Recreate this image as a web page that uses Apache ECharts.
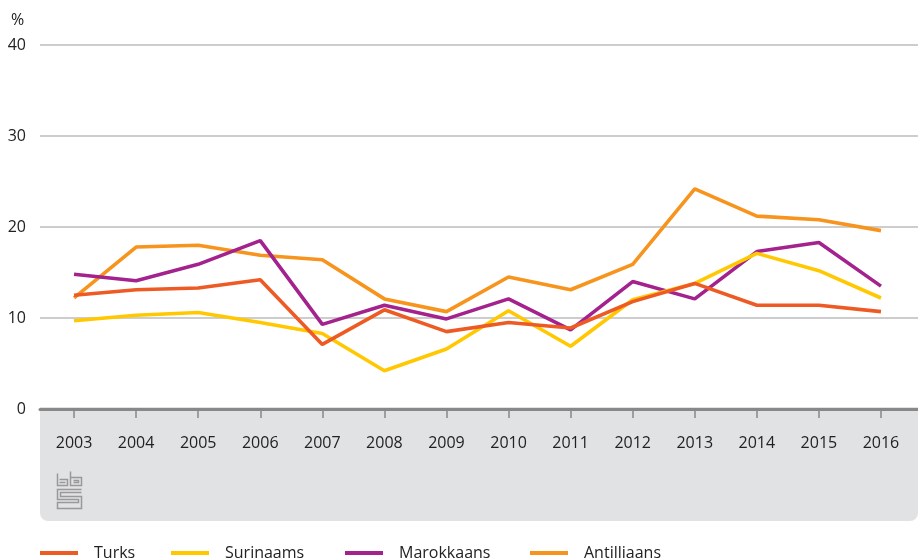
<!DOCTYPE html>
<html>
<head>
<meta charset="utf-8">
<script src="https://cdn.jsdelivr.net/npm/echarts@6/dist/echarts.min.js"></script>
<style>
  html, body { margin: 0; padding: 0; background: #fff; }
  #chart { width: 918px; height: 559px; }
</style>
</head>
<body>
<div id="chart"></div>
<script>
// jaren
var years = ['2003', '2004', '2005', '2006', '2007', '2008', '2009', '2010', '2011', '2012', '2013', '2014', '2015', '2016'];
var yTicks = [0, 10, 20, 30, 40];

// percentages per herkomstgroep
var turks = [12.5, 13.1, 13.3, 14.2, 7.1, 10.9, 8.5, 9.5, 8.9, 11.8, 13.8, 11.4, 11.4, 10.7];
var surinaams = [9.7, 10.3, 10.6, 9.5, 8.3, 4.2, 6.6, 10.8, 6.9, 12.0, 13.8, 17.1, 15.2, 12.2];
var marokkaans = [14.8, 14.1, 15.9, 18.5, 9.3, 11.4, 9.9, 12.1, 8.7, 14.0, 12.1, 17.3, 18.3, 13.5];
var antilliaans = [12.2, 17.8, 18.0, 16.9, 16.4, 12.1, 10.7, 14.5, 13.1, 15.9, 24.2, 21.2, 20.8, 19.6];

var names = ['Turks', 'Surinaams', 'Marokkaans', 'Antilliaans'];
var colors = ['#ee5a24', '#ffc800', '#a3228d', '#f7941d'];
var legendLeft = [40, 171, 345, 530];

var font = '"Open Sans", sans-serif';
var chart = echarts.init(document.getElementById('chart'), null, {renderer: 'canvas'});

function mkSeries(name, data, i) {
  return {
    name: name,
    type: 'line',
    xAxisIndex: 1,
    yAxisIndex: 1,
    data: data,
    symbol: 'none',
    lineStyle: {width: 3.6, color: colors[i]},
    itemStyle: {color: colors[i]},
    z: 10 - i
  };
}

// een legenda per reeks, zodat de posities kloppen
var legends = names.map(function (n, i) {
  return {
    data: [n],
    left: legendLeft[i],
    top: 545,
    padding: 0,
    icon: 'rect',
    itemWidth: 38,
    itemHeight: 4,
    textStyle: {fontFamily: font, fontSize: 16, color: '#222', padding: [0, 0, 0, 11]}
  };
});

var option = {
  animation: false,
  backgroundColor: '#fff',
  textStyle: {fontFamily: font},
  title: {
    text: '%',
    left: 6,
    top: 7,
    textStyle: {fontFamily: font, fontSize: 16, fontWeight: 'normal', color: '#222'}
  },
  legend: legends,
  graphic: [
    {
      type: 'rect',
      z: -10,
      shape: {x: 40, y: 407, width: 878, height: 114, r: [0, 0, 8, 8]},
      style: {fill: '#e1e2e4'}
    },
    // cbs logo
    {
      type: 'group',
      left: 55,
      top: 469,
      z: -5,
      children: [
        {type: 'polyline', shape: {points: [[0, 2], [0, 14], [10, 14], [10, 8], [2, 8]]}, style: {stroke: '#999', fill: null, lineWidth: 1.5}},
        {type: 'polyline', shape: {points: [[2, 11], [8, 11]]}, style: {stroke: '#999', fill: null, lineWidth: 1.5}},
        {type: 'polyline', shape: {points: [[13, 0], [13, 14], [24, 14], [24, 6], [13, 6]]}, style: {stroke: '#999', fill: null, lineWidth: 1.5}},
        {type: 'polyline', shape: {points: [[16, 9], [21, 9], [21, 11], [16, 11]]}, style: {stroke: '#999', fill: null, lineWidth: 1.5}},
        {type: 'polyline', shape: {points: [[24, 18], [0, 18], [0, 28], [21, 28], [21, 31], [0, 31], [0, 37], [24, 37], [24, 25], [3, 25], [3, 21], [24, 21]]}, style: {stroke: '#999', fill: null, lineWidth: 1.5}}
      ]
    }
  ],
  grid: [
    {left: 40, right: 0, top: 45, bottom: 150},
    {left: 43, right: 6, top: 45, bottom: 150}
  ],
  xAxis: [
    {
      gridIndex: 0,
      type: 'value',
      min: 0,
      max: 1,
      axisLine: {show: true, lineStyle: {color: '#888', width: 3}},
      axisTick: {show: false},
      axisLabel: {show: false},
      splitLine: {show: false},
      z: 5
    },
    {
      gridIndex: 1,
      type: 'category',
      data: years,
      boundaryGap: true,
      axisLine: {show: false},
      axisTick: {show: true, alignWithLabel: true, length: 9, lineStyle: {color: '#888', width: 1.5}},
      axisLabel: {margin: 26, fontFamily: font, fontSize: 16, color: '#222'}
    }
  ],
  yAxis: [
    {
      gridIndex: 0,
      type: 'value',
      min: 0,
      max: 40,
      interval: 10,
      axisLine: {show: false},
      axisTick: {show: false},
      axisLabel: {
        margin: 14,
        fontFamily: font,
        fontSize: 16,
        color: '#222',
        formatter: function (v) { return yTicks.indexOf(v) >= 0 ? String(v) : ''; }
      },
      splitLine: {lineStyle: {color: '#bdbdbd', width: 1.5}}
    },
    {
      gridIndex: 1,
      type: 'value',
      min: 0,
      max: 40,
      interval: 10,
      show: false
    }
  ],
  series: [
    mkSeries(names[0], turks, 0),
    mkSeries(names[1], surinaams, 1),
    mkSeries(names[2], marokkaans, 2),
    mkSeries(names[3], antilliaans, 3)
  ]
};

chart.setOption(option);
</script>
</body>
</html>
